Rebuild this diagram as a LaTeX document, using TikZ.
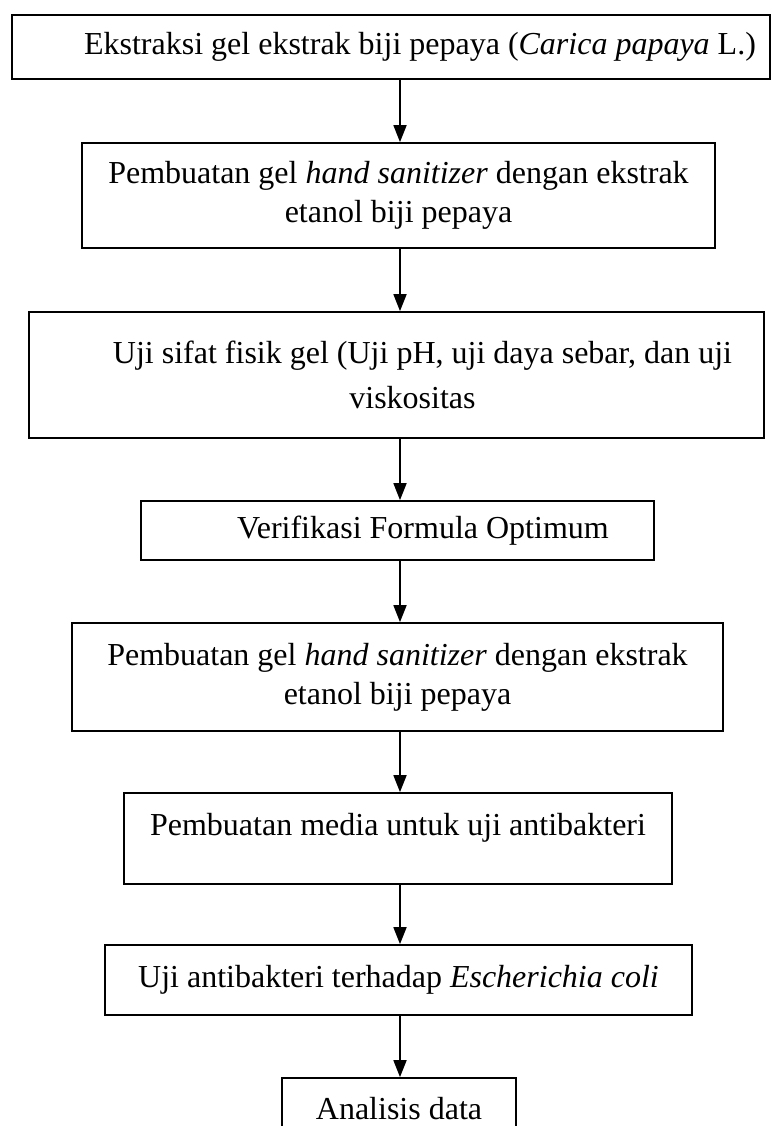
\documentclass[tikz,border=0pt]{standalone}
\usepackage{fontspec}
\setmainfont{Liberation Serif}
\usetikzlibrary{arrows.meta}
\newcommand{\boxfont}{\fontsize{32}{39}\selectfont}
\tikzset{stepbox/.style={draw, line width=1.7pt, inner sep=0pt, align=center, font=\boxfont}}
\tikzset{flow/.style={line width=1.7pt, -{Triangle[width=13pt,length=17pt]}}}

\begin{document}
\begin{tikzpicture}[x=1pt, y=-1pt]

\useasboundingbox (0,0) rectangle (771,1126);
\clip (0,0) rectangle (771,1126);

\coordinate (spine) at (400,0);

\node[stepbox, minimum width=758pt, minimum height=64pt] (b1) at (391,47) {\hspace*{58pt}Ekstraksi gel ekstrak biji pepaya (\textit{Carica papaya} L.)};
\node[stepbox, minimum width=633pt, minimum height=105pt] (b2) at (398.5,195.5) {Pembuatan gel \textit{hand sanitizer} dengan ekstrak\\ etanol biji pepaya};
\node[stepbox, minimum width=735pt, minimum height=126pt, font=\fontsize{32}{45}\selectfont] (b3) at (396.5,375) {\hspace*{52pt}Uji sifat fisik gel (Uji pH, uji daya sebar, dan uji\\ \hspace*{32pt}viskositas};
\node[stepbox, minimum width=513pt, minimum height=59pt] (b4) at (397.5,530.5) {\hspace*{51pt}Verifikasi Formula Optimum};
\node[stepbox, minimum width=651pt, minimum height=108pt] (b5) at (397.5,677) {Pembuatan gel \textit{hand sanitizer} dengan ekstrak\\ etanol biji pepaya};
\node[stepbox, minimum width=548pt, minimum height=91pt, text height=22pt, text depth=29pt] (b6) at (398,838.5) {Pembuatan media untuk uji antibakteri};
\node[stepbox, minimum width=587pt, minimum height=70pt] (b7) at (398.5,980) {Uji antibakteri terhadap \textit{Escherichia coli}};
\node[stepbox, minimum width=234pt, minimum height=62pt] (b8) at (399,1109) {Analisis data};

\foreach \a/\b in {b1/b2, b2/b3, b3/b4, b4/b5, b5/b6, b6/b7, b7/b8}
  \draw[flow] (\a.south -| spine) -- (\b.north -| spine);

\end{tikzpicture}
\end{document}
